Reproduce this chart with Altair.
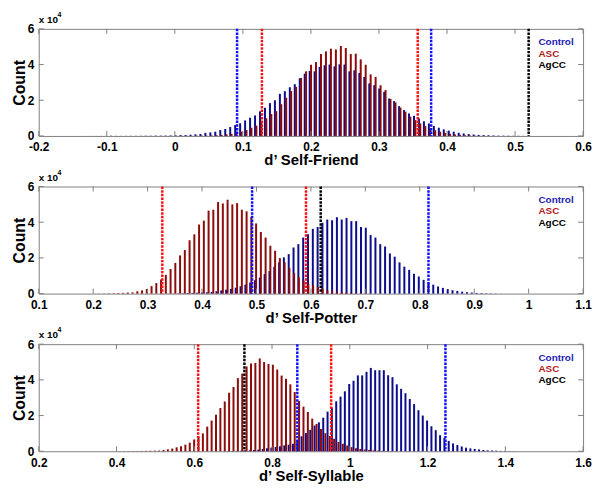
import altair as alt
import pandas as pd

# ---------------- data (counts in units of 10^4) ----------------
# Panel 1: d' Self-Friend
P1_TITLE = "d’ Self-Friend"
P1_XDOMAIN = [-0.2, 0.6]
P1_XTICKS = [-0.2, -0.1, 0.0, 0.1, 0.2, 0.3, 0.4, 0.5, 0.6]
P1_CTRL_START, P1_CTRL_STEP = -0.1303, 0.0073
P1_CTRL = [0.002, 0.002, 0.003, 0.003, 0.004, 0.005, 0.006, 0.007, 0.008, 0.01,
           0.01, 0.012, 0.015, 0.015, 0.02, 0.02, 0.025, 0.03, 0.035,
           0.05, 0.05, 0.07, 0.09, 0.11, 0.17, 0.2, 0.24, 0.33, 0.39, 0.5, 0.61,
           0.71, 0.87, 1.02, 1.15, 1.38, 1.58, 1.84, 2.0, 2.36, 2.51, 2.73, 2.9,
           3.23, 3.49, 3.64, 3.62, 3.87, 3.96, 4.0, 3.9, 4.01, 4.0, 3.62, 3.68,
           3.53, 3.31, 2.94, 2.84, 2.66, 2.47, 2.1, 1.95, 1.67, 1.45, 1.26, 1.13,
           0.98, 0.82, 0.7, 0.56, 0.46, 0.37, 0.3, 0.24, 0.18, 0.14, 0.11, 0.08,
           0.06, 0.05, 0.04, 0.03, 0.02, 0.02, 0.015, 0.01, 0.01, 0.005]
P1_ASC_START, P1_ASC_STEP = -0.048, 0.0073
P1_ASC = [0.001, 0.002, 0.002, 0.003, 0.003, 0.004, 0.005, 0.006, 0.008, 0.01,
          0.012, 0.015, 0.02,
          0.02, 0.03, 0.04, 0.06, 0.09, 0.12, 0.17, 0.24, 0.33, 0.46, 0.58, 0.75,
          0.99, 1.23, 1.39, 1.78, 2.14, 2.51, 2.75, 3.25, 3.62, 3.99, 4.14, 4.59,
          4.74, 4.89, 4.85, 5.04, 4.93, 4.59, 4.61, 4.29, 3.99, 3.45, 3.31, 2.84,
          2.57, 2.07, 1.88, 1.59, 1.36, 1.08, 0.89,
          0.7, 0.55, 0.42, 0.32, 0.24, 0.17, 0.12, 0.08, 0.06, 0.04, 0.03, 0.02,
          0.01, 0.005]
P1_CTRL_CI = [0.0915, 0.3767]
P1_ASC_CI = [0.128, 0.357]
P1_AGCC = 0.520

# Panel 2: d' Self-Potter
P2_TITLE = "d’ Self-Potter"
P2_XDOMAIN = [0.1, 1.1]
P2_XTICKS = [0.1, 0.2, 0.3, 0.4, 0.5, 0.6, 0.7, 0.8, 0.9, 1.0, 1.1]
P2_CTRL_START, P2_CTRL_STEP = 0.338, 0.00885
P2_CTRL = [0.005, 0.01, 0.015, 0.02, 0.03, 0.04, 0.05,
           0.06, 0.07, 0.09, 0.13, 0.18, 0.22, 0.26, 0.33, 0.41, 0.5, 0.62, 0.75,
           0.9, 1.09, 1.26, 1.5,
           1.75, 2.03, 2.21, 2.58, 2.77, 3.14, 3.32, 3.63, 3.73, 3.97, 4.15, 4.11,
           4.28, 4.15, 4.24, 4.06, 4.06, 3.73, 3.69, 3.28, 3.14, 2.77, 2.64, 2.25,
           2.07, 1.75, 1.51, 1.33, 1.11, 0.96, 0.77,
           0.62, 0.5, 0.4, 0.32, 0.25, 0.19, 0.15, 0.11, 0.08, 0.06, 0.04, 0.03,
           0.02, 0.015, 0.01, 0.005, 0.003]
P2_ASC_START, P2_ASC_STEP = 0.2025, 0.00873
P2_ASC = [0.005, 0.008, 0.01, 0.015, 0.02, 0.03, 0.04,
          0.06, 0.07, 0.13, 0.18, 0.26, 0.42, 0.59, 0.79, 1.05, 1.38, 1.72, 2.14,
          2.44, 2.99, 3.32, 3.87, 4.09, 4.65, 4.70, 5.13, 5.05, 5.26, 5.0, 5.07,
          4.7, 4.61, 4.3, 3.93, 3.45, 3.14, 2.68, 2.4, 1.99, 1.75, 1.44, 1.16,
          0.92, 0.72, 0.55, 0.46, 0.37, 0.28, 0.18, 0.15, 0.11, 0.07, 0.06, 0.04,
          0.03, 0.02, 0.015, 0.01, 0.005]
P2_CTRL_CI = [0.492, 0.816]
P2_ASC_CI = [0.327, 0.591]
P2_AGCC = 0.618

# Panel 3: d' Self-Syllable
P3_TITLE = "d’ Self-Syllable"
P3_XDOMAIN = [0.2, 1.6]
P3_XTICKS = [0.2, 0.4, 0.6, 0.8, 1.0, 1.2, 1.4, 1.6]
P3_CTRL_START, P3_CTRL_STEP = 0.6757, 0.01113
P3_CTRL = [0.005, 0.01, 0.015, 0.02, 0.03, 0.04, 0.05, 0.07, 0.09, 0.13, 0.17,
           0.2, 0.24, 0.28, 0.33, 0.37, 0.42, 0.6,
           0.84, 1.02, 1.2, 1.44, 1.62, 1.88, 2.22, 2.45, 2.8, 3.06, 3.36, 3.77,
           3.95, 4.25, 4.25, 4.45, 4.67, 4.54, 4.54, 4.54, 4.26, 4.15, 3.75, 3.5,
           3.25, 2.93, 2.64, 2.3, 2.0, 1.72, 1.4, 1.18, 0.9,
           0.75, 0.58, 0.44, 0.35, 0.27, 0.2, 0.16, 0.13, 0.1, 0.07, 0.05, 0.04,
           0.03, 0.02, 0.015, 0.01, 0.005]
P3_ASC_START, P3_ASC_STEP = 0.4084, 0.01125
P3_ASC = [0.005, 0.008, 0.01, 0.012, 0.015, 0.02, 0.025, 0.03, 0.035, 0.04,
          0.07, 0.11, 0.15, 0.22, 0.28, 0.37, 0.48, 0.66, 0.83, 1.0, 1.38, 1.72,
          2.05, 2.42, 2.79, 3.28, 3.6, 4.1, 4.35, 4.75, 4.92, 4.95, 5.2, 5.0,
          4.89, 4.85, 4.58, 4.24, 4.06, 3.75, 3.32,
          2.82, 2.5, 2.2, 1.83, 1.53, 1.25, 1.01, 0.86, 0.7, 0.52, 0.42, 0.32,
          0.23, 0.17, 0.13, 0.1, 0.07, 0.05, 0.035, 0.02, 0.015, 0.01, 0.005]
P3_CTRL_CI = [0.865, 1.246]
P3_ASC_CI = [0.61, 0.952]
P3_AGCC = 0.729

Y_TICKS = [0, 2, 4, 6]
GROUPS = ["Control", "ASC"]
LINE_KINDS = ["Control", "ASC", "AgCC"]

# ---------------- styling ----------------
W, H = 549, 108
FONT = "Liberation Sans"
BAR_COLORS = ["#0d0d8c", "#8c0b0b"]
LINE_COLORS = ["#1010ff", "#ff1010", "#000000"]
TEXT_COLORS = ["#1c1cb4", "#b41c1c", "#000000"]
FRAME = "#808080"


def panel(title, xdomain, xticks, ctrl, asc, ctrl_ci, asc_ci, agcc):
    rows = []
    for name, (start, step, vals) in zip(GROUPS, [ctrl, asc]):
        for i, v in enumerate(vals):
            rows.append({"x": round(start + i * step, 5), "count": v, "group": name})
    bars_df = pd.DataFrame(rows)
    lines_df = pd.DataFrame({
        "x": [ctrl_ci[0], ctrl_ci[1], asc_ci[0], asc_ci[1], agcc],
        "kind": ["Control", "Control", "ASC", "ASC", "AgCC"],
    })
    xscale = alt.Scale(domain=xdomain, nice=False, zero=False, padding=0)
    yscale = alt.Scale(domain=[0, 6], nice=False, padding=0)
    xaxis = alt.Axis(values=xticks, title=title, grid=False, ticks=False, tickSize=0,
                     domain=False, labelFlush=False, labelOverlap=False,
                     labelFont=FONT, labelFontSize=12, labelFontWeight="bold",
                     labelColor="black", labelPadding=6,
                     labelExpr="toString(round(datum.value*10)/10)",
                     titleFont=FONT, titleFontSize=15, titleFontWeight="bold",
                     titleColor="black", titlePadding=0)
    yaxis = alt.Axis(values=Y_TICKS, title="Count", grid=False, ticks=False, tickSize=0,
                     domain=False, labelFlush=False, labelOverlap=False,
                     labelFont=FONT, labelFontSize=12, labelFontWeight="bold",
                     labelColor="black", labelPadding=5,
                     titleFont=FONT, titleFontSize=16, titleFontWeight="bold",
                     titleColor="black", titlePadding=0)

    def X(field):
        return alt.X(field, scale=xscale, axis=xaxis, title=title)

    def Y(field, **kw):
        return alt.Y(field, scale=yscale, axis=yaxis, title="Count", **kw)

    bars = alt.Chart(bars_df).mark_bar(size=2).encode(
        x=X("x:Q"),
        y=Y("count:Q", stack=None),
        color=alt.Color("group:N", scale=alt.Scale(domain=GROUPS, range=BAR_COLORS), legend=None),
    )
    lines = alt.Chart(lines_df).mark_rule(strokeWidth=2.5, strokeDash=[2.5, 1.2]).encode(
        x=X("x:Q"),
        color=alt.Color("kind:N", scale=alt.Scale(domain=LINE_KINDS, range=LINE_COLORS), legend=None),
    )
    xt = pd.DataFrame({"x": xticks})
    yt = pd.DataFrame({"count": Y_TICKS})
    tick_top = alt.Chart(xt).mark_rule(color=FRAME, strokeWidth=1).encode(
        x=X("x:Q"), y=alt.value(0), y2=alt.value(5))
    tick_bot = alt.Chart(xt).mark_rule(color=FRAME, strokeWidth=1).encode(
        x=X("x:Q"), y=alt.value(H - 5), y2=alt.value(H))
    tick_l = alt.Chart(yt).mark_rule(color=FRAME, strokeWidth=1).encode(
        y=Y("count:Q"), x=alt.value(0), x2=alt.value(5))
    tick_r = alt.Chart(yt).mark_rule(color=FRAME, strokeWidth=1).encode(
        y=Y("count:Q"), x=alt.value(W - 5), x2=alt.value(W))

    one = pd.DataFrame({"a": [0]})
    texts = []
    for i, (lab, col) in enumerate(zip(LINE_KINDS, TEXT_COLORS)):
        texts.append(alt.Chart(one).mark_text(
            font=FONT, fontSize=10, fontWeight="bold", color=col, align="left",
            baseline="alphabetic").encode(
            x=alt.value(504), y=alt.value(16.5 + 11.5 * i), text=alt.value(lab)))
    x10 = alt.Chart(one).mark_text(font=FONT, fontSize=10, fontWeight="bold", color="black",
                                   align="left", baseline="alphabetic").encode(
        x=alt.value(0), y=alt.value(-6), text=alt.value("x 10"))
    sup = alt.Chart(one).mark_text(font=FONT, fontSize=7, fontWeight="bold", color="black",
                                   align="left", baseline="alphabetic").encode(
        x=alt.value(19), y=alt.value(-12), text=alt.value("4"))

    return alt.layer(bars, lines, tick_top, tick_bot, tick_l, tick_r, x10, sup, *texts).resolve_scale(
        color="independent").properties(width=W, height=H)


p1 = panel(P1_TITLE, P1_XDOMAIN, P1_XTICKS, (P1_CTRL_START, P1_CTRL_STEP, P1_CTRL),
           (P1_ASC_START, P1_ASC_STEP, P1_ASC), P1_CTRL_CI, P1_ASC_CI, P1_AGCC)
p2 = panel(P2_TITLE, P2_XDOMAIN, P2_XTICKS, (P2_CTRL_START, P2_CTRL_STEP, P2_CTRL),
           (P2_ASC_START, P2_ASC_STEP, P2_ASC), P2_CTRL_CI, P2_ASC_CI, P2_AGCC)
p3 = panel(P3_TITLE, P3_XDOMAIN, P3_XTICKS, (P3_CTRL_START, P3_CTRL_STEP, P3_CTRL),
           (P3_ASC_START, P3_ASC_STEP, P3_ASC), P3_CTRL_CI, P3_ASC_CI, P3_AGCC)

chart = alt.vconcat(p1, p2, p3, spacing=51, bounds="flush").properties(
    padding={"left": 2, "top": 0, "right": 0, "bottom": 0}
).configure_view(stroke=FRAME, strokeWidth=1)

chart.save("out.html", embed_options={"renderer": "svg", "actions": False})
